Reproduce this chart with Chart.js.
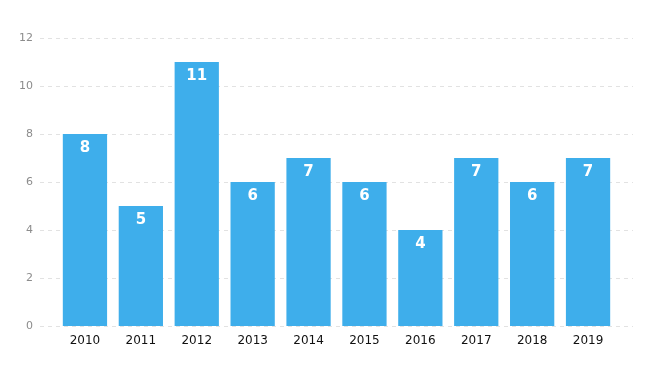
<!DOCTYPE html>
<html>
<head>
<meta charset="utf-8">
<script src="https://cdn.jsdelivr.net/npm/chart.js@4"></script>
<style>
  html, body { margin: 0; padding: 0; background: #fff; }
</style>
</head>
<body>
<canvas id="barChart" width="655" height="375"></canvas>
<script>
const years = ["2010", "2011", "2012", "2013", "2014", "2015", "2016", "2017", "2018", "2019"];
const counts = [8, 5, 11, 6, 7, 6, 4, 7, 6, 7];
const yTicks = [0, 2, 4, 6, 8, 10, 12];

// dashed horizontal grid, a bit wider than the plot area
const dashedGrid = {
  id: "dashedGrid",
  beforeDatasetsDraw(chart) {
    const { ctx, chartArea, scales } = chart;
    ctx.save();
    ctx.strokeStyle = "#e2e2e2";
    ctx.lineWidth = 1;
    ctx.setLineDash([4, 4]);
    yTicks.forEach(v => {
      const y = Math.round(scales.y.getPixelForValue(v)) + 0.5;
      ctx.beginPath();
      ctx.moveTo(chartArea.left - 17, y);
      ctx.lineTo(chartArea.right + 17, y);
      ctx.stroke();
    });
    ctx.restore();
  }
};

// white value labels inside the top of each bar
const valueLabels = {
  id: "valueLabels",
  afterDatasetsDraw(chart) {
    const { ctx } = chart;
    const meta = chart.getDatasetMeta(0);
    ctx.save();
    ctx.fillStyle = "#ffffff";
    ctx.font = "bold 15px 'DejaVu Sans'";
    ctx.textAlign = "center";
    ctx.textBaseline = "middle";
    meta.data.forEach((bar, i) => {
      ctx.fillText(String(counts[i]), bar.x, bar.y + 14.5);
    });
    ctx.restore();
  }
};

const ctx = document.getElementById("barChart").getContext("2d");

new Chart(ctx, {
  type: "bar",
  data: {
    labels: years,
    datasets: [{
      data: counts,
      backgroundColor: "#3eaeeb",
      borderWidth: 0,
      barPercentage: 0.88,
      categoryPercentage: 0.9
    }]
  },
  options: {
    responsive: false,
    animation: false,
    layout: { padding: { top: 38, right: 39, bottom: 0, left: 0 } },
    plugins: {
      legend: { display: false },
      tooltip: { enabled: false }
    },
    scales: {
      x: {
        grid: { display: false },
        border: { display: false },
        ticks: {
          color: "#111",
          font: { family: "DejaVu Sans", size: 12 },
          padding: 0,
          maxRotation: 0
        },
        afterFit: s => { s.height = 49; }
      },
      y: {
        min: 0,
        max: 12,
        grid: { display: false, drawTicks: false },
        border: { display: false },
        ticks: {
          stepSize: 2,
          color: "#8c8c8c",
          font: { family: "DejaVu Sans", size: 11 },
          padding: 24
        },
        afterFit: s => { s.width = 57; }
      }
    }
  },
  plugins: [dashedGrid, valueLabels]
});
</script>
</body>
</html>
